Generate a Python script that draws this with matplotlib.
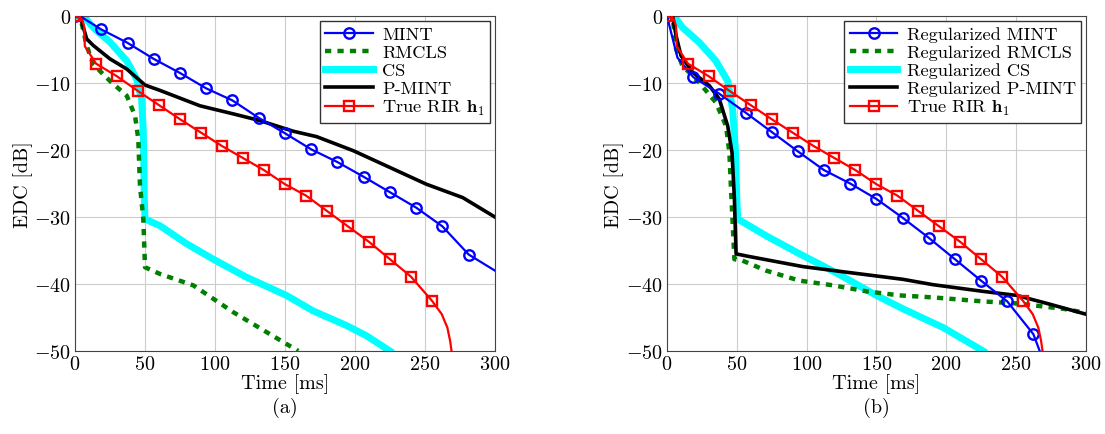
import matplotlib
matplotlib.use('Agg')
import matplotlib.pyplot as plt

plt.rcParams['font.family'] = 'serif'
plt.rcParams['font.serif'] = ['cmr10', 'DejaVu Serif']
plt.rcParams['mathtext.fontset'] = 'cm'
plt.rcParams['axes.formatter.use_mathtext'] = True
plt.rcParams['font.size'] = 14

# ---------------- data ----------------
# (a) unregularized
mint_t = [0, 5, 18.75, 37.5, 56.25, 75, 93.75, 112.5, 131.25, 150, 168.75, 187.5,
          206.25, 225, 243.75, 262.5, 281.25, 300]
mint_db = [0, -0.2, -2.0, -4.0, -6.4, -8.5, -10.8, -12.6, -15.2, -17.5, -19.9, -21.8,
           -24.0, -26.3, -28.6, -31.4, -35.6, -38.0]

rmcls_t = [0, 3.6, 8.3, 13, 25, 37, 42.9, 45.2, 46.4, 48.8, 50, 60.7, 84.5, 113, 137, 159.5]
rmcls_db = [0, 0, -4.4, -7.2, -9.7, -11.9, -14.9, -18.4, -25.3, -30.3, -37.5, -38.5,
            -40.2, -44.2, -47.2, -50]

cs_t = [0, 6, 13, 25, 37, 44, 47.6, 48.8, 49.5, 50, 60.7, 79.8, 98.8, 122.6, 151, 170,
        194, 208, 225]
cs_db = [0, 0, -1.7, -3.9, -6.7, -9.4, -12.4, -17.4, -27.3, -30.3, -31.3, -34.0, -36.3,
         -39.0, -41.7, -44.0, -46.2, -47.7, -50]

pmint_t = [0, 3.6, 8.3, 13.1, 25, 36.9, 50, 60.7, 89.3, 113, 132, 156, 172.6, 198.8,
           227, 251, 277, 300]
pmint_db = [0, 0, -3.4, -4.4, -6.4, -7.9, -10.3, -11.1, -13.4, -14.6, -15.6, -17.2,
            -18.0, -20.1, -22.8, -25.1, -27.1, -30.0]

rir_t = [0, 5, 6.5, 7, 15, 30, 45, 60, 75, 90, 105, 120, 135, 150, 165, 180, 195, 210,
         225, 240, 255, 262, 266, 268, 269]
rir_db = [0, -0.5, -1.5, -4.5, -7.1, -9.0, -11.2, -13.3, -15.4, -17.4, -19.4, -21.2,
          -23.0, -25.1, -26.8, -29.1, -31.4, -33.7, -36.3, -38.9, -42.5, -44.5, -46.5,
          -48.5, -50]

# (b) regularized
rmint_t = [0, 7.5, 18.75, 37.5, 56.25, 75, 93.75, 112.5, 131.25, 150, 168.75, 187.5,
           206.25, 225, 243.75, 262.5, 267]
rmint_db = [0, -6.2, -9.1, -11.6, -14.4, -17.3, -20.2, -23.0, -25.0, -27.3, -30.1,
            -33.1, -36.3, -39.5, -42.6, -47.5, -50]

rrmcls_t = [0, 4, 6.5, 11, 23, 35, 42.3, 44.7, 46, 48.3, 54, 71, 95, 119, 143, 166.7,
            190.6, 226.5, 250.5, 284, 300]
rrmcls_db = [0, 0, -4.9, -7.4, -9.9, -12.9, -16.4, -20.4, -26.4, -36.3, -36.5, -38.0,
             -39.5, -40.2, -41.1, -41.7, -42.0, -42.6, -42.9, -43.7, -44.3]

rcs_t = [0, 5.2, 11, 23, 35, 43.5, 47, 49, 50, 50.7, 71, 95, 121, 150, 169, 197.8, 226.5]
rcs_db = [0, 0, -1.7, -3.9, -6.7, -9.7, -13.9, -19.9, -27.3, -30.3, -32.8, -35.5, -38.3,
          -41.7, -43.7, -46.5, -50]

rpmint_t = [0, 4, 6.5, 10, 18.4, 30.4, 37.5, 43.5, 46.6, 48.3, 49.5, 59, 97.3, 131, 169,
            190.6, 226.5, 250.5, 274, 300]
rpmint_db = [0, 0, -2.9, -5.9, -8.4, -10.4, -12.4, -16.4, -20.4, -27.3, -35.5, -35.9,
             -37.4, -38.3, -39.3, -40.1, -41.1, -41.7, -43.0, -44.5]

labels_a = ['MINT', 'RMCLS', 'CS', 'P-MINT', r'True RIR $\mathbf{h}_1$']
labels_b = ['Regularized MINT', 'Regularized RMCLS', 'Regularized CS',
            'Regularized P-MINT', r'True RIR $\mathbf{h}_1$']

xticks = [0, 50, 100, 150, 200, 250, 300]
yticks = [0, -10, -20, -30, -40, -50]

GREEN = '#007f00'


def draw_panel(ax, curves, labels):
    (m_t, m_db, m_mk), (g_t, g_db), (c_t, c_db), (k_t, k_db), (r_t, r_db, r_mk) = curves
    ax.plot(m_t, m_db, color='blue', lw=1.6, marker='o', ms=7.5, mfc='none', mew=1.7,
            markevery=m_mk, label=labels[0], zorder=5)
    ax.plot(g_t, g_db, color=GREEN, lw=3.2, dashes=(1.4, 1.4), label=labels[1], zorder=3)
    ax.plot(c_t, c_db, color='cyan', lw=5, label=labels[2], zorder=2)
    ax.plot(k_t, k_db, color='black', lw=2.6, label=labels[3], zorder=4)
    ax.plot(r_t, r_db, color='red', lw=1.6, marker='s', ms=6.5, mfc='none', mew=1.7,
            markevery=r_mk, label=labels[4], zorder=6)
    ax.set_xlim(0, 300)
    ax.set_ylim(-50, 0)
    ax.set_xticks(xticks)
    ax.set_yticks(yticks)
    ax.grid(True, color='#cccccc', lw=0.8)
    ax.set_axisbelow(True)
    ax.tick_params(direction='in', length=0, pad=3, labelsize=14.5)
    for s in ax.spines.values():
        s.set_color('#444444')
    ax.set_xlabel('Time [ms]', labelpad=0, fontsize=14.5)
    ax.set_ylabel('EDC [dB]', labelpad=1, fontsize=14.5)
    leg = ax.legend(loc='upper right', fancybox=False, framealpha=1, edgecolor='#333333',
                    borderpad=0.3, labelspacing=0.12, handlelength=2.6, handletextpad=0.5,
                    borderaxespad=0.25, fontsize=13.2)
    leg.get_frame().set_linewidth(1.0)


fig = plt.figure(figsize=(11.05, 4.35), dpi=100)
ax1 = fig.add_axes([0.0679, 0.1908, 0.380, 0.770])
ax2 = fig.add_axes([0.6036, 0.1908, 0.379, 0.770])

mk_mint = [0] + list(range(2, 17))
mk_rir = [0] + list(range(4, 21))
mk_rmint = [0] + list(range(2, 16))

draw_panel(ax1, [(mint_t, mint_db, mk_mint), (rmcls_t, rmcls_db), (cs_t, cs_db),
                 (pmint_t, pmint_db), (rir_t, rir_db, mk_rir)], labels_a)
draw_panel(ax2, [(rmint_t, rmint_db, mk_rmint), (rrmcls_t, rrmcls_db), (rcs_t, rcs_db),
                 (rpmint_t, rpmint_db), (rir_t, rir_db, mk_rir)], labels_b)

fig.text(0.258, 0.062, '(a)', ha='center', va='center', fontsize=14.5)
fig.text(0.793, 0.062, '(b)', ha='center', va='center', fontsize=14.5)

fig.savefig('out.png', dpi=100)
